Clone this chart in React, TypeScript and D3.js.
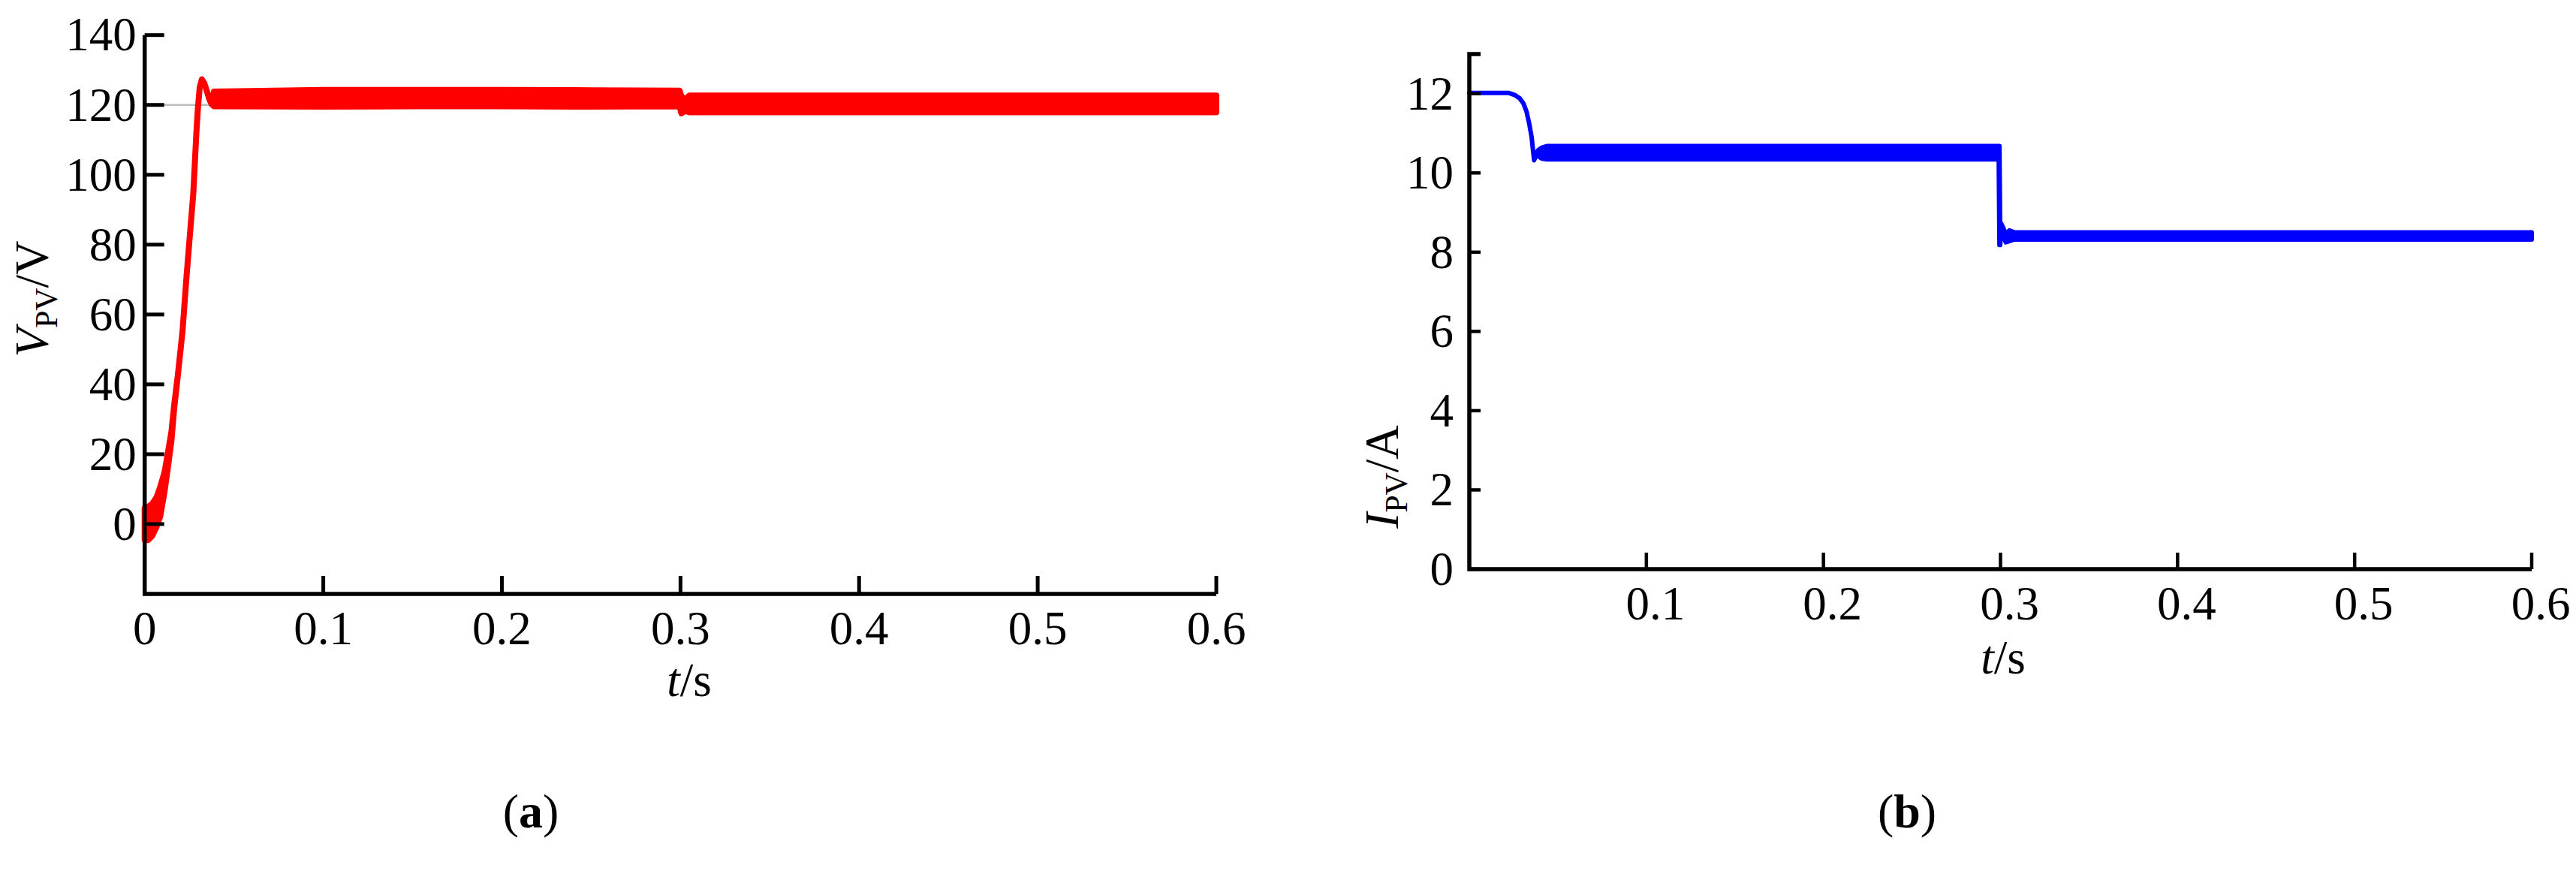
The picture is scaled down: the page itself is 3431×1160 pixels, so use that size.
import React from 'react';
import * as d3 from 'd3';

const W = 3431;
const H = 1160;
const FONT = 'Liberation Serif, Times New Roman, serif';

// ---------- Panel (a): PV voltage ----------
const vTickValues = [0, 20, 40, 60, 80, 100, 120, 140];
const tTickValuesA = [0, 0.1, 0.2, 0.3, 0.4, 0.5, 0.6];
const vRef = 120;
const vTime = [0, 0.0018, 0.0042, 0.0066, 0.0087, 0.0112, 0.0132, 0.015, 0.0165, 0.0186, 0.0212, 0.0233, 0.0254, 0.0272, 0.0282, 0.029, 0.0298, 0.0308, 0.032, 0.0334, 0.0349, 0.0362, 0.0375, 0.0388, 0.1, 0.15, 0.2, 0.25, 0.2995, 0.3005, 0.3025, 0.305, 0.35, 0.4, 0.45, 0.5, 0.55, 0.6];
const vLow = [-4.5, -4.6, -3.4, -0.8, 2.2, 9.6, 17.0, 24.0, 33.0, 42.7, 55.3, 70.0, 83.3, 94.5, 104.5, 112.5, 119.0, 125.0, 127.3, 126.2, 123.8, 121.6, 120.2, 119.6, 119.5, 119.6, 119.6, 119.5, 119.6, 117.6, 118.3, 117.9, 117.9, 117.9, 117.9, 117.9, 117.9, 117.9];
const vHigh = [4.6, 4.9, 5.8, 7.6, 10.6, 15.0, 21.0, 26.5, 34.0, 42.7, 55.3, 70.0, 83.3, 94.5, 104.5, 112.5, 119.0, 125.0, 127.3, 126.2, 123.8, 121.6, 121.0, 123.8, 124.3, 124.3, 124.3, 124.2, 124.1, 122.5, 121.5, 122.7, 122.7, 122.7, 122.7, 122.7, 122.7, 122.7];

// ---------- Panel (b): PV current ----------
const iTickValues = [0, 2, 4, 6, 8, 10, 12];
const tTickValuesB = [0.1, 0.2, 0.3, 0.4, 0.5, 0.6];
const iTime = [0, 0.022, 0.0255, 0.0285, 0.0305, 0.0323, 0.0338, 0.0352, 0.0359, 0.0366, 0.0378, 0.039, 0.041, 0.044, 0.1, 0.15, 0.2, 0.25, 0.299, 0.2994, 0.2998, 0.3004, 0.3015, 0.303, 0.305, 0.308, 0.4, 0.5, 0.6];
const iLow = [12.02, 12.02, 11.97, 11.88, 11.76, 11.55, 11.25, 10.9, 10.6, 10.32, 10.45, 10.42, 10.36, 10.34, 10.34, 10.34, 10.34, 10.34, 10.34, 8.18, 8.18, 8.62, 8.4, 8.25, 8.28, 8.32, 8.32, 8.32, 8.32];
const iHigh = [12.02, 12.02, 11.97, 11.88, 11.76, 11.55, 11.25, 10.9, 10.6, 10.32, 10.5, 10.58, 10.64, 10.68, 10.68, 10.68, 10.68, 10.68, 10.68, 10.68, 8.5, 8.72, 8.62, 8.45, 8.55, 8.5, 8.5, 8.5, 8.5];

type Row = [number, number, number];
const zip = (t: number[], lo: number[], hi: number[]): Row[] => t.map((v, i) => [v, lo[i], hi[i]]);

export default function App() {
  const xA = d3.scaleLinear().domain([0, 0.6]).range([192.7, 1620]);
  const yA = d3.scaleLinear().domain([-20, 140]).range([791, 46.7]);
  const xB = d3.scaleLinear().domain([0, 0.6]).range([1957, 3372]);
  const yB = d3.scaleLinear().domain([0, 13]).range([758, 72]);

  const areaA = d3.area<Row>().x(d => xA(d[0])).y0(d => yA(d[1])).y1(d => yA(d[2]));
  const areaB = d3.area<Row>().x(d => xB(d[0])).y0(d => yB(d[1])).y1(d => yB(d[2]));

  const dataA = zip(vTime, vLow, vHigh);
  const dataB = zip(iTime, iLow, iHigh);

  const fs = 63;

  return (
    <div style={{ position: 'absolute', left: 0, top: 0 }}>
      <svg width={W} height={H} viewBox={`0 0 ${W} ${H}`} style={{ display: 'block', background: '#fff', fontFamily: FONT }}>
        <rect x={0} y={0} width={W} height={H} fill="#fff" />

        {/* ===== Panel (a) ===== */}
        <line x1={xA(0)} x2={xA(0.6)} y1={yA(vRef)} y2={yA(vRef)} stroke="#bdbdbd" strokeWidth={2.5} />
        <path d={areaA(dataA) || ''} fill="#ff0000" stroke="#ff0000" strokeWidth={8} strokeLinejoin="round" />
        <path d={`M${xA(0)},${yA(140)} V${yA(-20)} H${xA(0.6)}`} fill="none" stroke="#000" strokeWidth={5.5} strokeLinejoin="miter" />
        {vTickValues.map(v => (
          <line key={'vt' + v} x1={xA(0)} x2={xA(0) + 26} y1={yA(v)} y2={yA(v)} stroke="#000" strokeWidth={5} />
        ))}
        {tTickValuesA.filter(t => t > 0).map(t => (
          <line key={'tta' + t} x1={xA(t)} x2={xA(t)} y1={yA(-20)} y2={yA(-20) - 24} stroke="#000" strokeWidth={5} />
        ))}
        {vTickValues.map(v => (
          <text key={'vl' + v} x={xA(0) - 11} y={yA(v) + fs * 0.33} fontSize={fs} textAnchor="end">{v}</text>
        ))}
        {tTickValuesA.map(t => (
          <text key={'tla' + t} x={xA(t)} y={yA(-20) + 67} fontSize={fs} textAnchor="middle">{String(t)}</text>
        ))}
        <text transform="translate(64,398) rotate(-90)" fontSize={fs} textAnchor="middle">
          <tspan fontStyle="italic">V</tspan>
          <tspan fontSize={42} dy={12}>PV</tspan>
          <tspan dy={-12}>/V</tspan>
        </text>
        <text x={918} y={927} fontSize={fs} textAnchor="middle">
          <tspan fontStyle="italic">t</tspan>/s
        </text>
        <text x={707} y={1102} fontSize={64} textAnchor="middle">
          (<tspan fontWeight="bold">a</tspan>)
        </text>

        {/* ===== Panel (b) ===== */}
        <path d={areaB(dataB) || ''} fill="#0000ff" stroke="#0000ff" strokeWidth={6} strokeLinejoin="round" />
        <path d={`M${xB(0) + 15},${yB(13)} H${xB(0)} V${yB(0)} H${xB(0.6)}`} fill="none" stroke="#000" strokeWidth={5.5} strokeLinejoin="miter" />
        {iTickValues.map(v => (
          <line key={'it' + v} x1={xB(0)} x2={xB(0) + 15} y1={yB(v)} y2={yB(v)} stroke="#000" strokeWidth={4.5} />
        ))}
        {tTickValuesB.map(t => (
          <line key={'ttb' + t} x1={xB(t)} x2={xB(t)} y1={yB(0)} y2={yB(0) - 22} stroke="#000" strokeWidth={4.5} />
        ))}
        {iTickValues.map(v => (
          <text key={'il' + v} x={xB(0) - 21} y={yB(v) + fs * 0.33} fontSize={fs} textAnchor="end">{v}</text>
        ))}
        {tTickValuesB.map(t => (
          <text key={'tlb' + t} x={xB(t) + 12} y={yB(0) + 67} fontSize={fs} textAnchor="middle">{String(t)}</text>
        ))}
        <text transform="translate(1862,635) rotate(-90)" fontSize={fs} textAnchor="middle">
          <tspan fontStyle="italic">I</tspan>
          <tspan fontSize={42} dy={12}>PV</tspan>
          <tspan dy={-12}>/A</tspan>
        </text>
        <text x={2668} y={897} fontSize={fs} textAnchor="middle">
          <tspan fontStyle="italic">t</tspan>/s
        </text>
        <text x={2540} y={1102} fontSize={64} textAnchor="middle">
          (<tspan fontWeight="bold">b</tspan>)
        </text>
      </svg>
    </div>
  );
}
